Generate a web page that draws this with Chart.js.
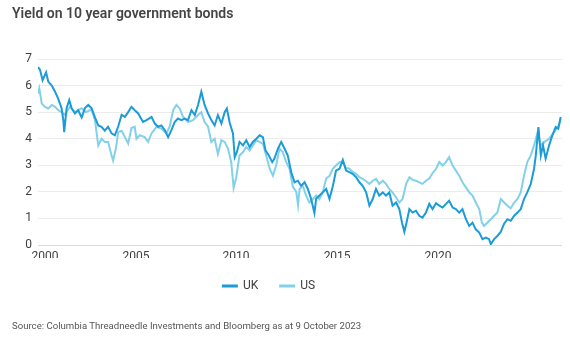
<!DOCTYPE html>
<html>
<head>
<meta charset="utf-8">
<script src="https://cdn.jsdelivr.net/npm/chart.js@4"></script>
<style>
  html, body { margin: 0; padding: 0; background: #fff; }
  #wrap { position: relative; width: 570px; height: 337px; overflow: hidden; }
  #c { position: absolute; left: 0; top: 0; }
  #title { position: absolute; left: 12px; top: 5px; font: 600 14px Roboto, "Liberation Sans", sans-serif; color: #454545; white-space: nowrap; }
  #source { position: absolute; left: 12px; top: 320px; font: 400 9.6px Roboto, "Liberation Sans", sans-serif; color: #555; white-space: nowrap; }
</style>
</head>
<body>
<div id="wrap">
  <canvas id="c" width="570" height="337"></canvas>
  <div id="title">Yield on 10 year government bonds</div>
  <div id="source">Source: Columbia Threadneedle Investments and Bloomberg as at 9 October 2023</div>
</div>
<script>
// Series labels
const seriesNames = ['UK', 'US'];

// UK: decimal year offsets (years after 2000) and yields (%)
const ukYears = [0.00,0.09,0.21,0.37,0.47,0.63,0.78,0.93,1.08,1.16,1.20,1.31,1.43,1.54,1.69,1.84,2.00,2.15,2.30,2.45,2.61,2.76,2.91,3.06,3.21,3.37,3.52,3.67,3.83,3.98,4.13,4.28,4.43,4.59,4.81,4.97,5.20,5.35,5.50,5.65,5.81,5.96,6.11,6.26,6.41,6.57,6.72,6.87,7.03,7.18,7.33,7.48,7.63,7.79,7.94,8.09,8.24,8.40,8.55,8.65,8.78,8.93,9.01,9.11,9.23,9.39,9.54,9.69,9.84,10.00,10.15,10.30,10.42,10.57,10.73,10.83,10.99,11.14,11.29,11.44,11.60,11.75,11.90,12.05,12.21,12.36,12.51,12.66,12.74,12.89,13.04,13.20,13.35,13.50,13.65,13.81,13.96,14.11,14.26,14.41,14.57,14.72,14.87,15.03,15.18,15.33,15.48,15.63,15.79,15.94,16.09,16.24,16.40,16.55,16.67,16.78,16.88,17.01,17.16,17.31,17.46,17.61,17.77,17.92,18.07,18.23,18.38,18.53,18.68,18.83,18.99,19.14,19.29,19.44,19.60,19.75,19.90,20.05,20.21,20.36,20.51,20.66,20.74,20.89,21.04,21.20,21.35,21.50,21.65,21.81,21.96,22.11,22.26,22.41,22.57,22.72,22.80,22.92,23.03,23.13,23.25,23.41,23.56,23.71,23.83,23.94];
const ukValues = [6.70,6.60,6.20,6.50,6.15,6.00,5.77,5.50,5.15,4.70,4.25,5.15,5.45,5.15,4.95,5.07,4.80,5.15,5.27,5.15,4.80,4.50,4.45,4.30,4.45,4.20,4.13,4.45,4.90,4.82,5.00,5.20,5.07,4.95,4.63,4.70,4.82,4.57,4.45,4.50,4.32,4.06,4.32,4.63,4.76,4.70,4.76,4.70,5.07,4.89,5.27,5.77,5.27,4.95,4.70,4.50,4.89,4.57,5.00,5.14,4.60,4.20,3.30,3.50,3.88,3.75,3.94,3.69,3.88,4.00,4.13,4.06,3.56,3.37,3.12,3.25,3.63,3.88,3.63,3.37,2.74,2.36,2.42,2.23,2.36,2.11,1.73,1.20,1.74,1.86,1.98,2.11,1.73,2.20,2.80,2.87,3.20,2.80,2.74,2.68,2.55,2.36,2.23,1.98,1.48,1.73,2.11,1.86,1.98,1.86,1.98,1.48,1.60,1.35,0.85,0.50,0.85,1.35,1.22,1.29,1.10,1.03,1.22,1.55,1.35,1.57,1.48,1.41,1.54,1.67,1.41,1.35,1.22,1.35,0.97,0.72,0.84,0.59,0.47,0.22,0.28,0.22,0.03,0.22,0.34,0.50,0.80,0.97,0.91,1.10,1.22,1.35,1.73,1.98,2.30,2.87,3.37,4.44,3.37,3.75,3.25,3.75,4.13,4.44,4.38,4.82];

// US: decimal year offsets (years after 2000) and yields (%)
const usYears = [0.00,0.06,0.17,0.32,0.47,0.63,0.78,0.93,1.08,1.23,1.46,1.69,2.00,2.19,2.45,2.61,2.68,2.76,2.91,3.06,3.21,3.37,3.44,3.57,3.67,3.83,3.98,4.13,4.28,4.43,4.51,4.66,4.89,5.04,5.20,5.43,5.65,5.88,6.03,6.19,6.34,6.49,6.64,6.87,7.10,7.33,7.48,7.63,7.79,7.94,8.09,8.24,8.40,8.55,8.70,8.85,8.96,9.08,9.23,9.39,9.54,9.69,9.84,10.00,10.15,10.30,10.45,10.61,10.76,10.91,11.06,11.21,11.37,11.52,11.67,11.83,11.91,11.98,12.13,12.28,12.43,12.59,12.74,12.89,13.04,13.20,13.35,13.50,13.65,13.81,13.96,14.11,14.26,14.41,14.57,14.72,14.87,15.03,15.18,15.33,15.48,15.63,15.79,15.94,16.09,16.24,16.40,16.55,16.70,16.86,17.01,17.16,17.31,17.46,17.61,17.77,17.92,18.07,18.23,18.38,18.53,18.68,18.83,18.99,19.14,19.29,19.44,19.60,19.75,19.90,20.05,20.21,20.33,20.43,20.58,20.74,20.89,21.04,21.20,21.35,21.50,21.65,21.81,21.96,22.11,22.26,22.41,22.57,22.72,22.87,23.03,23.20,23.41,23.64,23.86,23.94];
const usValues = [5.70,5.90,5.33,5.20,5.14,5.27,5.20,5.07,5.00,4.90,5.20,5.00,5.15,5.00,5.10,4.70,4.25,3.75,4.00,3.88,3.88,3.37,3.18,3.64,4.25,4.30,4.06,3.82,4.40,4.45,4.00,4.13,4.06,3.88,4.20,4.45,4.38,4.20,4.45,5.07,5.27,5.14,4.82,4.63,4.70,4.89,5.00,4.63,4.45,3.88,4.00,3.43,3.94,3.88,3.63,3.12,2.15,2.55,3.37,3.50,3.69,3.56,3.75,3.94,3.88,3.81,3.37,2.87,2.61,3.00,3.63,3.50,3.12,2.87,2.20,2.00,1.50,2.11,2.23,1.86,1.60,1.73,1.86,1.73,1.98,2.50,2.60,2.87,2.99,3.12,3.10,2.90,2.87,2.75,2.68,2.55,2.49,2.40,2.30,2.42,2.49,2.30,2.42,2.30,2.11,1.98,1.79,1.60,1.73,2.30,2.55,2.45,2.42,2.36,2.30,2.42,2.50,2.70,2.87,3.12,2.99,3.12,3.31,2.99,2.80,2.61,2.36,2.17,1.98,1.86,1.60,1.35,0.84,0.72,0.84,0.97,1.10,1.22,1.73,1.60,1.48,1.38,1.60,1.73,1.98,2.61,3.12,3.37,3.75,4.20,3.75,3.88,4.00,4.25,4.50,4.76];

// X-axis tick labels and where they sit (years after 2000)
const xTickLabels = ['2000', '2005', '2010', '2015', '2020'];
const xTickPositions = [0.32, 4.49, 9.07, 13.70, 18.32];
const baseYear = 2000;

const yTickLabels = ['0', '1', '2', '3', '4', '5', '6', '7'];

const toPoints = (xs, ys) => xs.map((x, i) => ({ x: baseYear + x, y: ys[i] }));

const UK_COLOR = '#1b9bd7';
const US_COLOR = '#82d1e8';
const TEXT = '#404040';
const FONT = 'Roboto, "Liberation Sans", sans-serif';

// Nudge the legend a little left of the canvas centre, as in the original
const legendShift = {
  id: 'legendShift',
  afterLayout(chart) {
    const lg = chart.legend;
    if (lg) { lg.left -= 12; lg.right -= 12; }
  }
};

new Chart(document.getElementById('c'), {
  type: 'line',
  data: {
    datasets: [
      { label: seriesNames[0], data: toPoints(ukYears, ukValues), borderColor: UK_COLOR, backgroundColor: UK_COLOR, borderWidth: 2, pointRadius: 0, tension: 0 },
      { label: seriesNames[1], data: toPoints(usYears, usValues), borderColor: US_COLOR, backgroundColor: US_COLOR, borderWidth: 2, pointRadius: 0, tension: 0 }
    ]
  },
  plugins: [legendShift],
  options: {
    responsive: false,
    animation: false,
    events: [],
    layout: { padding: { top: 59, left: 0, right: 8, bottom: 35 } },
    scales: {
      x: {
        type: 'linear',
        min: baseYear,
        max: baseYear + 24,
        grid: { display: false, drawTicks: false },
        border: { display: false },
        afterBuildTicks: (axis) => { axis.ticks = xTickPositions.map(v => ({ value: baseYear + v })); },
        afterFit: (axis) => { axis.height = 13; },
        ticks: {
          autoSkip: false,
          maxRotation: 0,
          padding: 5,
          color: TEXT,
          font: { family: FONT, size: 12 },
          callback: (v, i) => xTickLabels[i]
        }
      },
      y: {
        min: 0,
        max: 7,
        afterFit: (axis) => { axis.width = 38; },
        grid: {
          drawTicks: false,
          color: (ctx) => ctx.tick && ctx.tick.value === 0 ? '#d9d9d9' : '#ececec',
          lineWidth: 1
        },
        border: { display: false },
        ticks: {
          stepSize: 1,
          padding: 6,
          color: TEXT,
          font: { family: FONT, size: 12 },
          callback: (v) => yTickLabels[v]
        }
      }
    },
    plugins: {
      legend: {
        position: 'bottom',
        labels: {
          boxWidth: 14,
          boxHeight: 1,
          padding: 22,
          color: TEXT,
          font: { family: FONT, size: 12 }
        }
      },
      tooltip: { enabled: false }
    }
  }
});
</script>
</body>
</html>
